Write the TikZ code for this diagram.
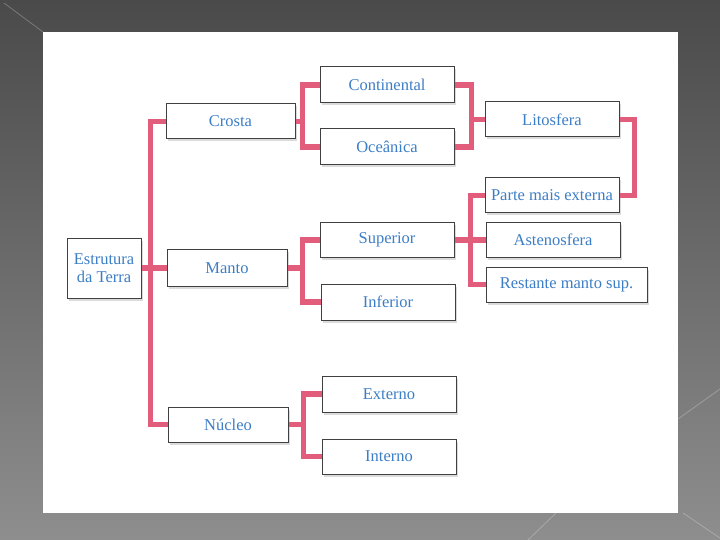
\documentclass[tikz,border=0pt]{standalone}
\usepackage{fontspec}
\setmainfont{Liberation Serif}
\usetikzlibrary{shadows}
\definecolor{bgtop}{HTML}{4A4A4A}
\definecolor{bgbot}{HTML}{8E8E8E}
\definecolor{pinkline}{HTML}{E25C7C}
\definecolor{txtblue}{HTML}{3C7EC6}
\definecolor{boxedge}{HTML}{404040}
\tikzset{
  box/.style={draw=boxedge, line width=1pt, fill=white, inner sep=0pt,
    text=txtblue, font=\fontsize{16.5}{17.5}\selectfont, align=center,
    drop shadow={shadow xshift=1.5pt, shadow yshift=-2.5pt, fill=black!35, opacity=0.4}},
  conn/.style={draw=pinkline, line width=5.5pt},
  deco/.style={draw=white, opacity=0.25, line width=0.8pt}
}
\begin{document}
\begin{tikzpicture}[x=1pt,y=-1pt]
\useasboundingbox (0,0) rectangle (720,540);
\shade[top color=bgtop, bottom color=bgbot] (0,0) rectangle (720,540);
\draw[deco] (4,3) -- (43,32);
\draw[deco] (678,419) -- (720,389);
\draw[deco] (683,513) -- (720,538);
\draw[deco] (528,540) -- (556,513);
\fill[white] (43,32) rectangle (678,513);

% level 0
\node[box, minimum width=74pt, minimum height=60pt] (est) at (104,268) {Estrutura\\da Terra};
% level 1
\node[box, minimum width=129pt, minimum height=35pt] (crosta) at (230.5,121.5) {Crosta};
\node[box, minimum width=120pt, minimum height=37pt] (manto) at (227,268) {Manto};
\node[box, minimum width=120pt, minimum height=35pt] (nucleo) at (228,424.5) {Núcleo};
% level 2
\node[box, minimum width=134pt, minimum height=36pt] (cont) at (387,85) {Continental};
\node[box, minimum width=134pt, minimum height=36pt] (ocea) at (387,147) {Oceânica};
\node[box, minimum width=134pt, minimum height=34pt] (sup) at (387,240) {Superior};
\node[box, minimum width=134pt, minimum height=36pt] (inf) at (388,302) {Inferior};
\node[box, minimum width=134pt, minimum height=36pt] (ext) at (389,394) {Externo};
\node[box, minimum width=134pt, minimum height=35pt] (int) at (389,456.5) {Interno};
% level 3
\node[box, minimum width=134pt, minimum height=35pt] (lito) at (552,119.5) {Litosfera};
\node[box, minimum width=134pt, minimum height=35pt] (parte) at (552,195.5) {Parte mais externa};
\node[box, minimum width=134pt, minimum height=34pt] (asten) at (553,240) {Astenosfera};
\node[box, minimum width=161pt, minimum height=35pt] (rest) at (566.5,284.5) {Restante manto sup.};

% connectors
\draw[conn] (crosta.west) -- +(-15,0) |- (nucleo.west);
\draw[conn] (est.east) -- (manto.west);

\draw[conn] (crosta.east) -- +(8,0);
\draw[conn] (cont.west) -- +(-17,0) |- (ocea.west);

\draw[conn] (cont.east) -- +(17,0) |- (ocea.east);
\draw[conn] (lito.west) -- +(-14,0);

\draw[conn] (lito.east) -- +(15,0) |- (parte.east);

\draw[conn] (sup.east) -- (asten.west);
\draw[conn] (parte.west) -- +(-14,0) |- (rest.west);

\draw[conn] (manto.east) -- +(16,0);
\draw[conn] (sup.west) -- +(-17,0) |- (inf.west);

\draw[conn] (nucleo.east) -- +(15,0);
\draw[conn] (ext.west) -- +(-18,0) |- (int.west);
\end{tikzpicture}
\end{document}
